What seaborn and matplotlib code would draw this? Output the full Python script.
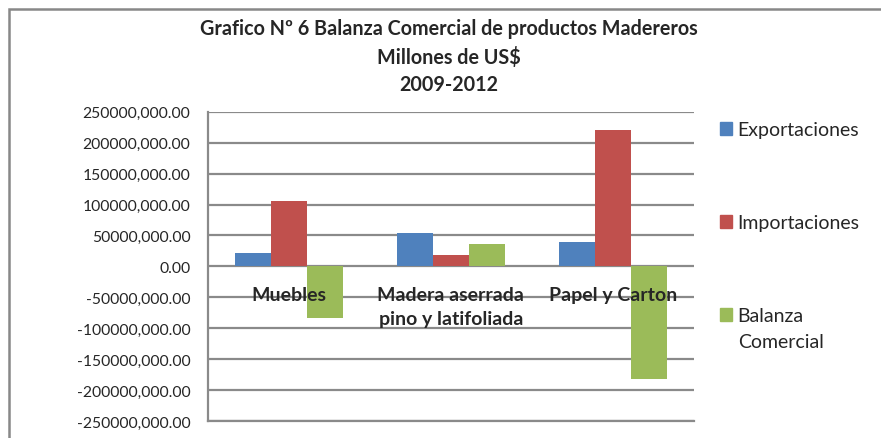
import pandas as pd
import matplotlib
matplotlib.use('Agg')
import matplotlib.pyplot as plt
import seaborn as sns
from matplotlib.patches import Rectangle, Patch
from matplotlib.ticker import FuncFormatter, MultipleLocator

# datos (US$)
categorias = ['Muebles', 'Madera aserrada\npino y latifoliada', 'Papel y Carton']
exportaciones = [21000000, 54500000, 40000000]
importaciones = [105000000, 18500000, 221000000]
balanza = [-84000000, 36000000, -181000000]
series = ['Exportaciones', 'Importaciones', 'Balanza Comercial']
colores = ['#4F81BD', '#C0504D', '#9BBB59']

df = pd.DataFrame({
    'categoria': categorias * 3,
    'serie': [series[0]] * 3 + [series[1]] * 3 + [series[2]] * 3,
    'valor': exportaciones + importaciones + balanza,
})

sns.set_style('white')
plt.rcParams['font.family'] = ['Lato', 'DejaVu Sans']

fig = plt.figure(figsize=(8.81, 4.39), dpi=100)
ax = fig.add_axes([0.2357, 0.038, 0.552, 0.7055])

sns.barplot(data=df, x='categoria', y='valor', hue='serie', palette=colores,
            width=0.667, saturation=1, ax=ax, legend=False, zorder=3,
            edgecolor='none', linewidth=0)

ax.set_ylim(-250000000, 250000000)
ax.yaxis.set_major_locator(MultipleLocator(50000000))


def fmt(v, pos):
    if v == 0:
        return '0.00'
    return '%d,000.00' % round(v / 1000)


ax.yaxis.set_major_formatter(FuncFormatter(fmt))
ax.grid(axis='y', color='#8a8a8a', linewidth=1.6, zorder=0)
ax.set_xlabel('')
ax.set_ylabel('')
ax.set_xticklabels([])
ax.tick_params(axis='both', length=0, labelsize=11.3, pad=12.5)
for s in ['top', 'right']:
    ax.spines[s].set_visible(False)
for s in ['left', 'bottom']:
    ax.spines[s].set_color('#8a8a8a')
    ax.spines[s].set_linewidth(1.6)

# etiquetas de categoria junto al eje cero
for i, c in enumerate(categorias):
    ax.annotate(c, xy=(i, 0), xytext=(0, -14), textcoords='offset points',
                ha='center', va='top', fontsize=14, fontweight='bold',
                linespacing=1.5, zorder=5)

fig.text(0.509, 0.957, 'Grafico Nº 6 Balanza Comercial de productos Madereros\nMillones de US$\n2009-2012',
         ha='center', va='top', fontsize=14.2, fontweight='bold', linespacing=1.45)

# leyenda: la ultima entrada se parte en dos lineas a mano
handles = [Patch(color=c) for c in colores]
etiquetas = series[:2] + ['Balanza']
leg = fig.legend(handles, etiquetas, loc='upper left', bbox_to_anchor=(0.817, 0.721),
                 frameon=False, fontsize=14, handlelength=0.62, handleheight=0.62,
                 handletextpad=0.3, labelspacing=3.9, borderpad=0, borderaxespad=0)

fig.canvas.draw()
bb = leg.get_texts()[-1].get_window_extent()
fig.text(bb.x0 / fig.bbox.width, (bb.y0 - 26) / fig.bbox.height, 'Comercial',
         ha='left', va='bottom', fontsize=14)

# marco exterior
fig.patches.append(Rectangle((8.5 / 881, -0.1), 1.2, (439 - 9.5) / 439 + 0.1,
                             transform=fig.transFigure, fill=False,
                             edgecolor='#888888', linewidth=1.8))

fig.savefig('out.png', dpi=100)
